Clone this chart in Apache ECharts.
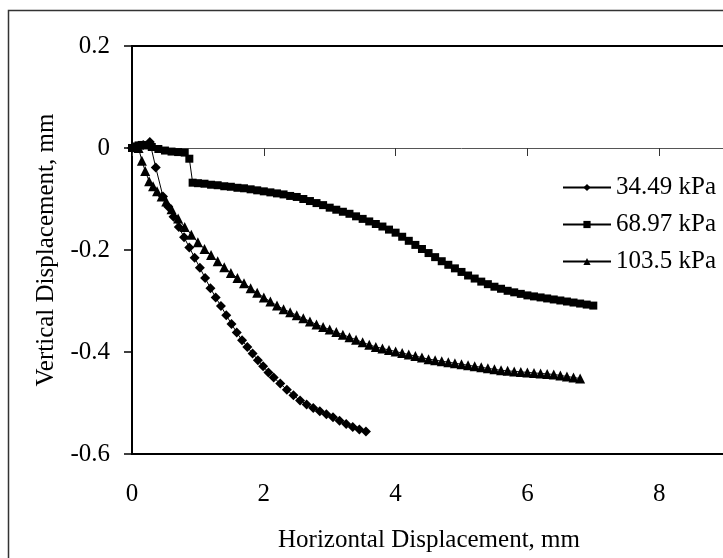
<!DOCTYPE html>
<html>
<head>
<meta charset="utf-8">
<script src="https://cdn.jsdelivr.net/npm/echarts@6/dist/echarts.min.js"></script>
<style>
  html, body { margin: 0; padding: 0; background: #fff; overflow: hidden; }
  /* the original figure is cropped on the right, so the chart is wider than the window */
  #echart { width: 860px; height: 558px; }
</style>
</head>
<body>
<div id="echart"></div>
<script>
// series names (legend)
var seriesNames = ['34.49 kPa', '68.97 kPa', '103.5 kPa'];

// [horizontal mm, vertical mm]
var p34 = [[0,0],[0.08,0.003],[0.17,0.006],[0.27,0.012],[0.36,-0.038],[0.47,-0.095],[0.55,-0.115],[0.63,-0.135],
  [0.71,-0.155],[0.79,-0.175],[0.87,-0.195],[0.95,-0.215],[1.03,-0.235],[1.11,-0.255],[1.19,-0.275],[1.27,-0.293],
  [1.35,-0.31],[1.43,-0.328],[1.51,-0.345],[1.59,-0.362],[1.67,-0.377],[1.75,-0.39],[1.83,-0.403],[1.91,-0.416],
  [1.99,-0.428],[2.07,-0.44],[2.15,-0.45],[2.25,-0.462],[2.35,-0.474],[2.45,-0.485],[2.55,-0.495],[2.65,-0.503],
  [2.75,-0.51],[2.85,-0.516],[2.95,-0.522],[3.05,-0.528],[3.15,-0.535],[3.25,-0.541],[3.35,-0.547],[3.45,-0.552],[3.55,-0.556]];

var p69 = [[0,0],[0.05,0.003],[0.1,0.005],[0.15,0.006],[0.2,0.005],[0.3,0.002],[0.4,-0.002],[0.5,-0.005],[0.6,-0.007],
  [0.7,-0.008],[0.8,-0.009],[0.87,-0.021],[0.92,-0.068],[1.0,-0.069],[1.1,-0.07],[1.2,-0.072],[1.3,-0.073],[1.4,-0.075],
  [1.5,-0.076],[1.6,-0.078],[1.7,-0.079],[1.8,-0.081],[1.9,-0.083],[2.0,-0.085],[2.1,-0.087],[2.2,-0.089],[2.3,-0.091],
  [2.4,-0.094],[2.5,-0.096],[2.6,-0.1],[2.7,-0.104],[2.8,-0.108],[2.9,-0.112],[3.0,-0.117],[3.1,-0.121],[3.2,-0.125],
  [3.3,-0.129],[3.4,-0.134],[3.5,-0.139],[3.6,-0.144],[3.7,-0.149],[3.8,-0.154],[3.9,-0.16],[4.0,-0.166],[4.1,-0.174],
  [4.2,-0.182],[4.3,-0.19],[4.4,-0.198],[4.5,-0.206],[4.6,-0.214],[4.7,-0.222],[4.8,-0.229],[4.9,-0.236],[5.0,-0.243],
  [5.1,-0.25],[5.2,-0.256],[5.3,-0.262],[5.4,-0.267],[5.5,-0.272],[5.6,-0.276],[5.7,-0.28],[5.8,-0.283],[5.9,-0.286],
  [6.0,-0.289],[6.1,-0.291],[6.2,-0.293],[6.3,-0.295],[6.4,-0.297],[6.5,-0.299],[6.6,-0.301],[6.7,-0.303],[6.8,-0.305],
  [6.9,-0.307],[7.0,-0.309]];

var p103 = [[0.1,0.0],[0.15,-0.025],[0.2,-0.045],[0.26,-0.065],[0.32,-0.075],[0.38,-0.085],[0.45,-0.095],[0.52,-0.105],
  [0.6,-0.12],[0.7,-0.138],[0.8,-0.155],[0.9,-0.17],[1.0,-0.185],[1.1,-0.198],[1.2,-0.21],[1.3,-0.222],[1.4,-0.234],
  [1.5,-0.245],[1.6,-0.255],[1.7,-0.265],[1.8,-0.275],[1.9,-0.284],[2.0,-0.293],[2.1,-0.301],[2.2,-0.309],[2.3,-0.316],
  [2.4,-0.322],[2.5,-0.328],[2.6,-0.334],[2.7,-0.34],[2.8,-0.346],[2.9,-0.351],[3.0,-0.356],[3.1,-0.361],[3.2,-0.366],
  [3.3,-0.371],[3.4,-0.376],[3.5,-0.381],[3.6,-0.386],[3.7,-0.39],[3.8,-0.393],[3.9,-0.396],[4.0,-0.399],[4.1,-0.402],
  [4.2,-0.405],[4.3,-0.408],[4.4,-0.411],[4.5,-0.414],[4.6,-0.416],[4.7,-0.418],[4.8,-0.42],[4.9,-0.422],[5.0,-0.424],
  [5.1,-0.426],[5.2,-0.428],[5.3,-0.43],[5.4,-0.432],[5.5,-0.434],[5.6,-0.436],[5.7,-0.437],[5.8,-0.438],[5.9,-0.439],
  [6.0,-0.44],[6.1,-0.441],[6.2,-0.442],[6.3,-0.443],[6.4,-0.444],[6.5,-0.446],[6.6,-0.448],[6.7,-0.45],[6.8,-0.452]];

var font = '"Liberation Serif", "Times New Roman", serif';

function mkSeries(name, data, symbol, size){
  return {
    name: name, type: 'line', data: data,
    symbol: symbol, symbolSize: size,
    showAllSymbol: true,
    color: '#000',
    itemStyle: { color: '#000' },
    lineStyle: { color: '#000', width: 1 },
    xAxisIndex: 0, yAxisIndex: 0
  };
}

var echart = echarts.init(document.getElementById('echart'));
echart.setOption({
  animation: false,
  backgroundColor: '#fff',
  graphic: [{
    type: 'rect', silent: true,
    shape: { x: 8.5, y: 10.5, width: 840, height: 700 },
    style: { fill: 'none', stroke: '#333', lineWidth: 1.5 }
  }],
  grid: {
    left: 132, top: 46, right: 69, bottom: 103,
    show: true, borderColor: '#000', borderWidth: 2, backgroundColor: 'transparent'
  },
  legend: {
    orient: 'vertical', left: 562, top: 175, padding: 0,
    itemWidth: 48, itemHeight: 9, itemGap: 12,
    data: seriesNames,
    textStyle: { fontFamily: font, fontSize: 25, color: '#000' }
  },
  xAxis: [{
    type: 'value', min: 0, max: 10, interval: 2,
    position: 'bottom',
    axisLine: { onZero: false, lineStyle: { color: '#000', width: 2 } },
    axisTick: { show: false },
    splitLine: { show: false },
    axisLabel: { margin: 28, fontFamily: font, fontSize: 25, color: '#000' },
    name: 'Horizontal Displacement, mm',
    nameLocation: 'middle', nameGap: 74,
    nameTextStyle: { fontFamily: font, fontSize: 25, color: '#000', padding: [0, 65, 0, 0] }
  }, {
    type: 'value', min: 0, max: 10, interval: 2,
    position: 'top',
    axisLine: { onZero: true, onZeroAxisIndex: 0, lineStyle: { color: '#555', width: 1 } },
    axisTick: { inside: true, length: 8, lineStyle: { color: '#333', width: 1 } },
    axisLabel: { show: false },
    splitLine: { show: false }
  }],
  yAxis: {
    type: 'value', min: -0.6, max: 0.2, interval: 0.2,
    axisLine: { lineStyle: { color: '#000', width: 2 } },
    axisTick: { length: 8, lineStyle: { color: '#000', width: 1.5 } },
    splitLine: { show: false },
    axisLabel: {
      margin: 22, fontFamily: font, fontSize: 25, color: '#000',
      formatter: function(v){ return Math.abs(v) < 1e-9 ? '0' : v.toFixed(1); }
    },
    name: 'Vertical Displacement, mm',
    nameLocation: 'middle', nameGap: 73,
    nameTextStyle: { fontFamily: font, fontSize: 25, color: '#000' }
  },
  series: [
    mkSeries(seriesNames[0], p34, 'diamond', 10),
    mkSeries(seriesNames[1], p69, 'rect', 8),
    mkSeries(seriesNames[2], p103, 'triangle', 10)
  ]
});
</script>
</body>
</html>
